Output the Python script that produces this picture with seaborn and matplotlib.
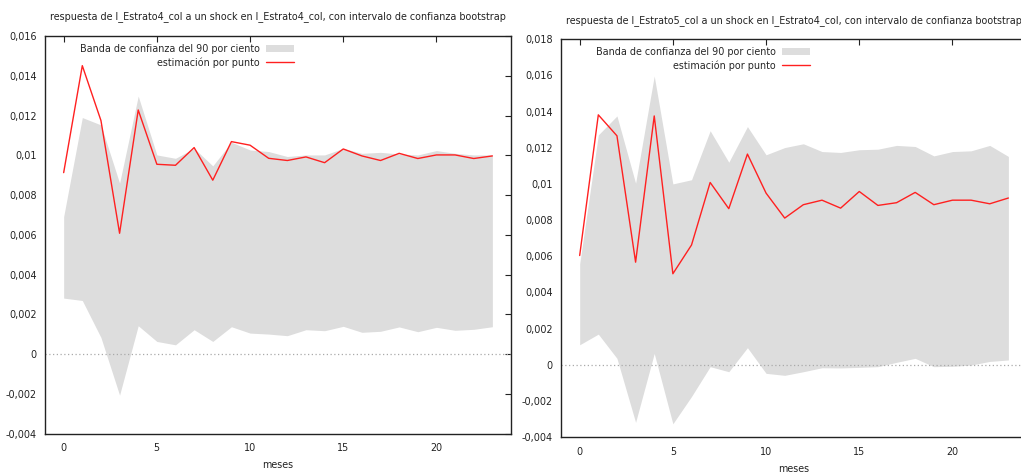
import matplotlib
matplotlib.use("Agg")
import matplotlib.pyplot as plt
import seaborn as sns
import pandas as pd
import numpy as np
from matplotlib.ticker import FuncFormatter, MultipleLocator

meses = list(range(24))

# Panel 1: l_Estrato4_col -> l_Estrato4_col (values x 0.001)
est1 = [9.13, 14.51, 11.75, 6.08, 12.28, 9.55, 9.50, 10.39, 8.75, 10.69, 10.51, 9.85,
        9.74, 9.92, 9.63, 10.32, 9.97, 9.74, 10.10, 9.84, 10.02, 10.02, 9.84, 9.97]
sup1 = [6.92, 11.90, 11.53, 8.60, 12.98, 10.02, 9.85, 10.35, 9.47, 10.66, 10.27, 10.19,
        9.94, 10.02, 10.02, 10.35, 10.10, 10.15, 10.07, 10.02, 10.24, 10.10, 10.02, 10.02]
inf1 = [2.82, 2.70, 0.84, -2.06, 1.43, 0.64, 0.47, 1.23, 0.64, 1.38, 1.06, 1.01,
        0.93, 1.23, 1.18, 1.40, 1.10, 1.15, 1.37, 1.13, 1.35, 1.20, 1.25, 1.38]

# Panel 2: l_Estrato5_col -> l_Estrato4_col (values x 0.001)
est2 = [6.04, 13.82, 12.66, 5.67, 13.76, 5.03, 6.62, 10.08, 8.63, 11.65, 9.49, 8.11,
        8.85, 9.10, 8.66, 9.58, 8.81, 8.96, 9.53, 8.85, 9.10, 9.10, 8.90, 9.22]
sup2 = [5.58, 12.71, 13.76, 10.04, 15.97, 10.00, 10.23, 12.94, 11.20, 13.17, 11.61, 12.01,
        12.22, 11.79, 11.74, 11.89, 11.92, 12.13, 12.07, 11.55, 11.79, 11.83, 12.13, 11.52]
inf2 = [1.10, 1.69, 0.35, -3.19, 0.62, -3.27, -1.76, -0.11, -0.39, 0.94, -0.48, -0.59,
        -0.39, -0.17, -0.18, -0.15, -0.11, 0.13, 0.35, -0.11, -0.09, -0.02, 0.18, 0.26]

titles = [
    "respuesta de l_Estrato4_col a un shock en l_Estrato4_col, con intervalo de confianza bootstrap",
    "respuesta de l_Estrato5_col a un shock en l_Estrato4_col, con intervalo de confianza bootstrap",
]
ylims = [(-0.004, 0.016), (-0.004, 0.018)]

sns.set_theme(style="white")
plt.rcParams['font.family'] = ['DejaVu Sans']

fig = plt.figure(figsize=(10.21, 4.74), dpi=100)
axes = [fig.add_axes([0.0441, 0.0850, 0.4564, 0.8390]),
        fig.add_axes([0.5495, 0.0781, 0.4564, 0.8390])]

fmt = FuncFormatter(lambda v, p: ("0" if abs(v) < 1e-12 else f"{v:.3f}".rstrip('0').replace('.', ',')))

FS = 6.9
panels = [(est1, sup1, inf1), (est2, sup2, inf2)]
for ax, (est, sup, inf), title, yl in zip(axes, panels, titles, ylims):
    df = pd.DataFrame({"meses": meses,
                       "est": np.array(est) / 1000,
                       "sup": np.array(sup) / 1000,
                       "inf": np.array(inf) / 1000})
    ax.fill_between(df["meses"], df["inf"], df["sup"], color="#dddddd", lw=0,
                    label="Banda de confianza del 90 por ciento")
    sns.lineplot(data=df, x="meses", y="est", ax=ax, color="#ff2020", lw=1.0,
                 label="estimación por punto")
    ax.axhline(0, color="#aaaaaa", lw=0.9, ls=(0, (1, 2)))
    ax.set_xlim(-1, 24)
    ax.set_ylim(*yl)
    ax.xaxis.set_major_locator(MultipleLocator(5))
    ax.yaxis.set_major_locator(MultipleLocator(0.002))
    ax.yaxis.set_major_formatter(fmt)
    ax.tick_params(direction="in", length=4, width=0.8, top=True, right=True,
                   labelsize=FS, colors="#222222", pad=6)
    ax.tick_params(axis="x", pad=7)
    for s in ax.spines.values():
        s.set_color("#222222")
        s.set_linewidth(1.0)
    ax.set_xlabel("meses", fontsize=FS, color="#222222", labelpad=5)
    ax.set_ylabel("")
    ax.set_title(title, fontsize=FS, color="#222222", pad=12)
    leg = ax.legend(loc="upper left", bbox_to_anchor=(0.058, 1.0), frameon=False,
                    markerfirst=False, fontsize=FS, handlelength=2.9,
                    handletextpad=0.7, labelspacing=0.35, borderaxespad=0.4)
    for t in leg.get_texts():
        t.set_ha("right")
    leg._legend_box.align = "right"

fig.savefig("out.png", dpi=100)
